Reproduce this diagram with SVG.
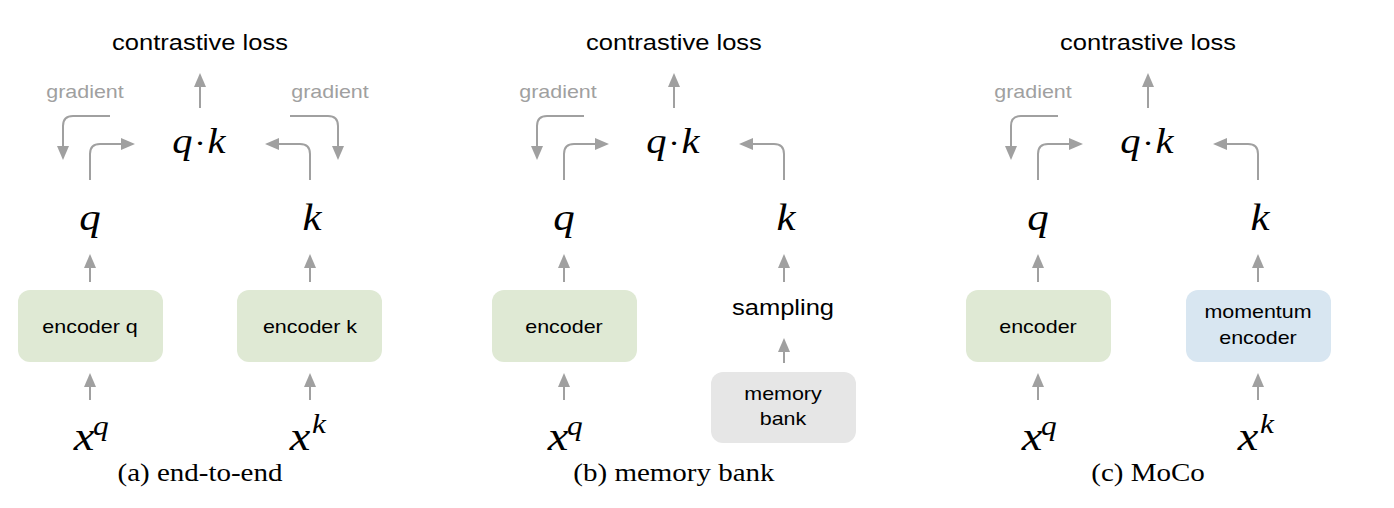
<svg xmlns="http://www.w3.org/2000/svg" width="1394" height="508" viewBox="0 0 1394 508">
<defs>
<style>
.sans{font-family:"Liberation Sans",Arial,sans-serif;text-anchor:middle;fill:#000}
.big{font-size:22px}
.small{font-size:18.5px}
.grad{font-family:"Liberation Sans",Arial,sans-serif;text-anchor:middle;font-size:18.5px;fill:#a0a0a0}
.math{font-family:"Liberation Serif","Times New Roman",serif;font-style:italic;text-anchor:middle;fill:#000}
.cap{font-family:"Liberation Serif","Times New Roman",serif;text-anchor:middle;font-size:25px;fill:#000}
.conn path{fill:none;stroke:#a0a0a0;stroke-width:2;marker-end:url(#ah)}
.green{fill:#dfe9d4}
.blue{fill:#d8e6f1}
.gray{fill:#e6e6e6}
</style>
<marker id="ah" markerUnits="userSpaceOnUse" markerWidth="14" markerHeight="12" refX="1" refY="6" orient="auto">
<path d="M0,0 L14,6 L0,12 z" fill="#a0a0a0"/>
</marker>
</defs>
<rect width="1394" height="508" fill="#fff"/>

<g id="connectors" class="conn">
<!-- panel a -->
<path d="M200,108 V86"/>
<path d="M110,116 H73 Q63,116 63,126 V147"/>
<path d="M90,180 V154 Q90,144 100,144 H122"/>
<path d="M310,180 V154 Q310,144 300,144 H278"/>
<path d="M290,116 H328 Q338,116 338,126 V147"/>
<path d="M90,282 V267"/>
<path d="M310,282 V267"/>
<path d="M90,400 V386"/>
<path d="M310,400 V386"/>
<!-- panel b -->
<path d="M674,108 V86"/>
<path d="M584,116 H547 Q537,116 537,126 V147"/>
<path d="M564,180 V154 Q564,144 574,144 H596"/>
<path d="M784,180 V154 Q784,144 774,144 H752"/>
<path d="M564,282 V267"/>
<path d="M784,282 V267"/>
<path d="M564,400 V386"/>
<path d="M784,363 V351"/>
<!-- panel c -->
<path d="M1148,108 V86"/>
<path d="M1058,116 H1021 Q1011,116 1011,126 V147"/>
<path d="M1038,180 V154 Q1038,144 1048,144 H1070"/>
<path d="M1258,180 V154 Q1258,144 1248,144 H1226"/>
<path d="M1038,282 V267"/>
<path d="M1258,282 V267"/>
<path d="M1038,400 V386"/>
<path d="M1258,400 V386"/>
</g>

<!-- panel a -->
<g id="a-loss"><text class="sans big" transform="scale(1.16 1)" x="172.41" y="50">contrastive loss</text></g>
<g id="a-grad-q"><text class="grad" transform="scale(1.16 1)" x="73.28" y="98">gradient</text></g>
<g id="a-grad-k"><text class="grad" transform="scale(1.16 1)" x="284.48" y="98">gradient</text></g>
<g id="a-qk" class="math" font-size="35"><text transform="scale(1.16 1)" x="157.3" y="153">q</text><text transform="scale(1.16 1)" x="172.41" y="153" font-style="normal" font-size="30">·</text><text transform="scale(1.16 1)" x="186.6" y="153">k</text></g>
<g id="a-q"><text class="math" font-size="37" transform="scale(1.16 1)" x="77.59" y="230">q</text></g>
<g id="a-k"><text class="math" font-size="37" transform="scale(1.16 1)" x="268.97" y="230">k</text></g>
<g id="a-enc-q"><rect class="green" x="18" y="290" width="145" height="72" rx="12"/><text class="sans small" transform="scale(1.16 1)" x="77.59" y="333">encoder q</text></g>
<g id="a-enc-k"><rect class="green" x="237" y="290" width="145" height="72" rx="12"/><text class="sans small" transform="scale(1.16 1)" x="267.24" y="333">encoder k</text></g>
<g id="a-xq" class="math"><text font-size="40" transform="scale(1.16 1)" x="72.41" y="450">x</text><text font-size="27" transform="scale(1.16 1)" x="87.0" y="435">q</text></g>
<g id="a-xk" class="math"><text font-size="40" transform="scale(1.16 1)" x="258.62" y="450">x</text><text font-size="27" transform="scale(1.16 1)" x="275.0" y="433">k</text></g>
<g id="a-caption"><text class="cap" transform="scale(1.16 1)" x="172.41" y="481">(a) end-to-end</text></g>

<!-- panel b -->
<g id="b-loss"><text class="sans big" transform="scale(1.16 1)" x="581.03" y="50">contrastive loss</text></g>
<g id="b-grad-q"><text class="grad" transform="scale(1.16 1)" x="481.03" y="98">gradient</text></g>
<g id="b-qk" class="math" font-size="35"><text transform="scale(1.16 1)" x="565.92" y="153">q</text><text transform="scale(1.16 1)" x="581.03" y="153" font-style="normal" font-size="30">·</text><text transform="scale(1.16 1)" x="595.22" y="153">k</text></g>
<g id="b-q"><text class="math" font-size="37" transform="scale(1.16 1)" x="486.21" y="230">q</text></g>
<g id="b-k"><text class="math" font-size="37" transform="scale(1.16 1)" x="677.59" y="230">k</text></g>
<g id="b-enc"><rect class="green" x="492" y="290" width="145" height="72" rx="12"/><text class="sans small" transform="scale(1.16 1)" x="486.21" y="333">encoder</text></g>
<g id="b-sampling"><text class="sans big" transform="scale(1.16 1)" x="675" y="315">sampling</text></g>
<g id="b-memory"><rect class="gray" x="711" y="372" width="145" height="71" rx="12"/><text class="sans small" transform="scale(1.16 1)" x="675" y="400">memory</text><text class="sans small" transform="scale(1.16 1)" x="675" y="425">bank</text></g>
<g id="b-xq" class="math"><text font-size="40" transform="scale(1.16 1)" x="481.03" y="450">x</text><text font-size="27" transform="scale(1.16 1)" x="495.62" y="435">q</text></g>
<g id="b-caption"><text class="cap" transform="scale(1.16 1)" x="581.03" y="481">(b) memory bank</text></g>

<!-- panel c -->
<g id="c-loss"><text class="sans big" transform="scale(1.16 1)" x="989.66" y="50">contrastive loss</text></g>
<g id="c-grad-q"><text class="grad" transform="scale(1.16 1)" x="890.52" y="98">gradient</text></g>
<g id="c-qk" class="math" font-size="35"><text transform="scale(1.16 1)" x="974.54" y="153">q</text><text transform="scale(1.16 1)" x="989.65" y="153" font-style="normal" font-size="30">·</text><text transform="scale(1.16 1)" x="1003.84" y="153">k</text></g>
<g id="c-q"><text class="math" font-size="37" transform="scale(1.16 1)" x="894.83" y="230">q</text></g>
<g id="c-k"><text class="math" font-size="37" transform="scale(1.16 1)" x="1086.21" y="230">k</text></g>
<g id="c-enc"><rect class="green" x="966" y="290" width="145" height="72" rx="12"/><text class="sans small" transform="scale(1.16 1)" x="894.83" y="333">encoder</text></g>
<g id="c-momentum"><rect class="blue" x="1186" y="290" width="145" height="72" rx="12"/><text class="sans small" transform="scale(1.16 1)" x="1084.48" y="318">momentum</text><text class="sans small" transform="scale(1.16 1)" x="1084.48" y="344">encoder</text></g>
<g id="c-xq" class="math"><text font-size="40" transform="scale(1.16 1)" x="889.65" y="450">x</text><text font-size="27" transform="scale(1.16 1)" x="904.24" y="435">q</text></g>
<g id="c-xk" class="math"><text font-size="40" transform="scale(1.16 1)" x="1075.86" y="450">x</text><text font-size="27" transform="scale(1.16 1)" x="1092.24" y="433">k</text></g>
<g id="c-caption"><text class="cap" transform="scale(1.16 1)" x="989.66" y="481">(c) MoCo</text></g>
</svg>
